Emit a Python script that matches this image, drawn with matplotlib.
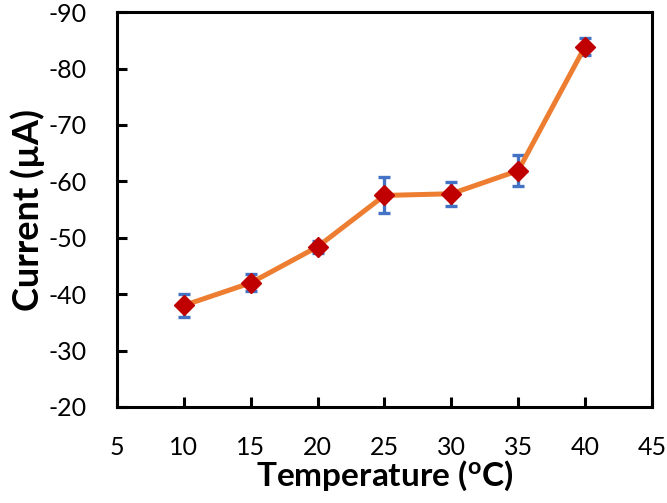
import matplotlib
matplotlib.use("Agg")
import matplotlib.pyplot as plt

plt.rcParams['font.family'] = ['Lato', 'DejaVu Sans']
plt.rcParams['mathtext.default'] = 'regular'
plt.rcParams['axes.unicode_minus'] = False

temperature = [10, 15, 20, 25, 30, 35, 40]
current = [-38.0, -42.0, -48.4, -57.5, -57.8, -61.9, -83.9]
current_err = [2.0, 1.5, 1.1, 3.2, 2.1, 2.8, 1.5]

xticks = [5, 10, 15, 20, 25, 30, 35, 40, 45]
yticks = [-20, -30, -40, -50, -60, -70, -80, -90]

fig = plt.figure(figsize=(6.67, 5.03), dpi=100)
ax = fig.add_axes([0.1754, 0.1909, 0.802, 0.785])

ax.errorbar(temperature, current, yerr=current_err, fmt='none',
            ecolor='#4472C4', elinewidth=2.4, capsize=4, capthick=2.4, zorder=2)
ax.plot(temperature, current, color='#ED7D31', linewidth=3.6, zorder=3)
ax.plot(temperature, current, linestyle='none', marker='D', markersize=10,
        color='#C00000', zorder=4)

ax.set_xlim(5, 45)
ax.set_ylim(-20, -90)
ax.set_xticks(xticks)
ax.set_yticks(yticks)
ax.tick_params(direction='in', length=7, width=2.2, labelsize=18, pad=21)
ax.tick_params(axis='y', pad=22)
for s in ax.spines.values():
    s.set_linewidth(2.2)

ax.set_xlabel('Temperature ($^{o}$C)', fontsize=24, fontweight='bold', labelpad=0)
ax.set_ylabel('Current (µA)', fontsize=26, fontweight='bold', labelpad=2)

fig.savefig('out.png', dpi=100)
